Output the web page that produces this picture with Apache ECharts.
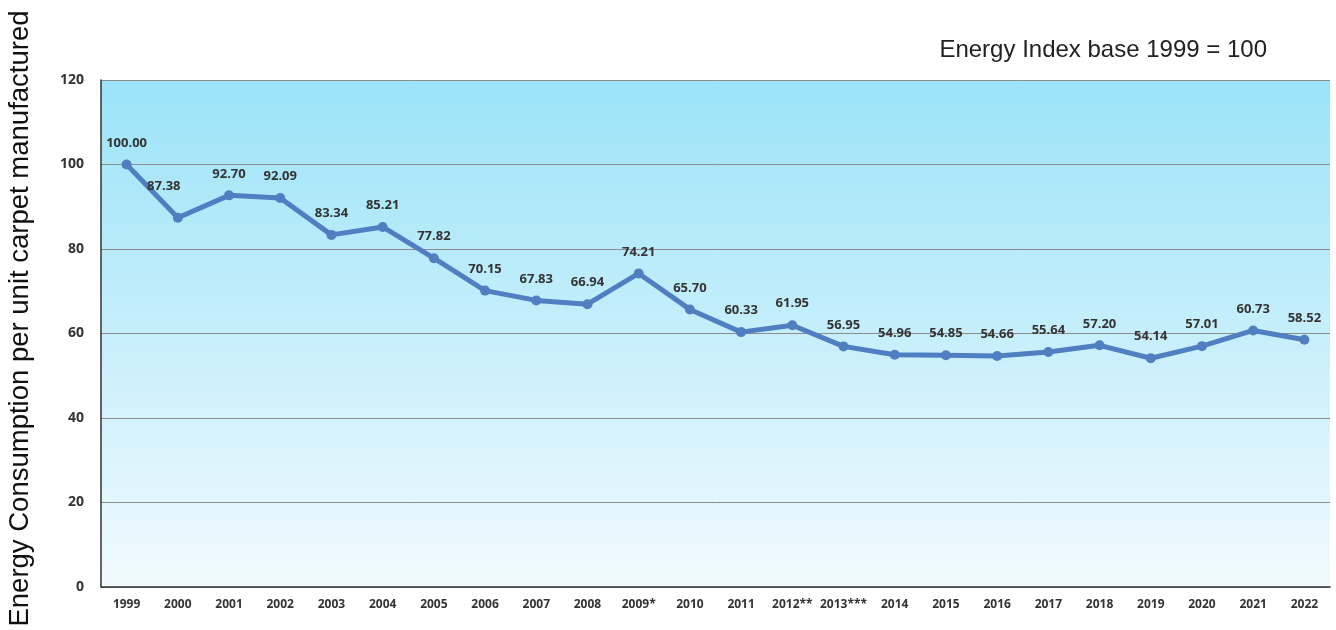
<!DOCTYPE html>
<html lang="en">
<head>
    <meta charset="UTF-8">
    <title>Energy Index</title>
    <script src="https://cdn.jsdelivr.net/npm/echarts@6/dist/echarts.min.js"></script>
    <style>
        html, body { margin: 0; padding: 0; background: #fff; }
    </style>
</head>
<body>
    <div id="main" style="width: 1336px;height: 630px;"></div>
    <script>
        var years = ['1999', '2000', '2001', '2002', '2003', '2004', '2005', '2006',
            '2007', '2008', '2009*', '2010', '2011', '2012**', '2013***', '2014',
            '2015', '2016', '2017', '2018', '2019', '2020', '2021', '2022'];

        var energyIndex = [100.00, 87.38, 92.70, 92.09, 83.34, 85.21, 77.82, 70.15,
            67.83, 66.94, 74.21, 65.70, 60.33, 61.95, 56.95, 54.96,
            54.85, 54.66, 55.64, 57.20, 54.14, 57.01, 60.73, 58.52];

        var yTicks = [0, 20, 40, 60, 80, 100, 120];

        var myChart = echarts.init(document.getElementById('main'));

        // 2000 label sits a bit higher and left in the original
        var seriesData = energyIndex.map(function (v, i) {
            if (i === 1) {
                return { value: v, label: { offset: [-14, -10] } };
            }
            return v;
        });

        var option = {
            animation: false,
            title: {
                text: 'Energy Index base 1999 = 100',
                right: 64,
                top: 33,
                textStyle: {
                    fontFamily: 'Liberation Sans',
                    fontWeight: 'normal',
                    fontSize: 24,
                    color: '#222'
                }
            },
            grid: {
                left: 101,
                right: 6,
                top: 80,
                bottom: 43,
                outerBoundsMode: 'none',
                show: true,
                borderWidth: 0,
                backgroundColor: new echarts.graphic.LinearGradient(0, 0, 0, 1, [
                    { offset: 0, color: '#9be3f8' },
                    { offset: 1, color: '#f1fafe' }
                ])
            },
            xAxis: {
                type: 'category',
                data: years,
                boundaryGap: true,
                axisLine: { lineStyle: { color: '#333', width: 1.5 } },
                axisTick: { show: false },
                axisLabel: {
                    interval: 0,
                    margin: 12,
                    fontFamily: 'Open Sans',
                    fontWeight: 'bold',
                    fontSize: 12,
                    color: '#333'
                }
            },
            yAxis: {
                type: 'value',
                min: yTicks[0],
                max: yTicks[yTicks.length - 1],
                interval: 20,
                name: 'Energy Consumption per unit carpet manufactured',
                nameLocation: 'middle',
                nameRotate: 90,
                nameGap: 67,
                nameTextStyle: {
                    fontFamily: 'Liberation Sans',
                    fontSize: 27.5,
                    color: '#111',
                    padding: [0, 0, 0, 30]
                },
                axisLine: { show: true, lineStyle: { color: '#333', width: 1.5 } },
                axisTick: { show: false },
                splitLine: { lineStyle: { color: '#8c8c8c', width: 1 } },
                axisLabel: {
                    margin: 17,
                    fontFamily: 'Open Sans',
                    fontWeight: 'bold',
                    fontSize: 14,
                    color: '#333'
                }
            },
            series: [{
                name: 'Energy Index',
                type: 'line',
                data: seriesData,
                symbol: 'circle',
                symbolSize: 10,
                lineStyle: { color: '#4f7fc0', width: 5 },
                itemStyle: { color: '#4f7fc0' },
                label: {
                    show: true,
                    position: 'top',
                    distance: 10,
                    formatter: function (p) { return p.value.toFixed(2); },
                    fontFamily: 'Open Sans',
                    fontWeight: 'bold',
                    fontSize: 13,
                    color: '#333'
                }
            }]
        };

        myChart.setOption(option);
    </script>
</body>
</html>
